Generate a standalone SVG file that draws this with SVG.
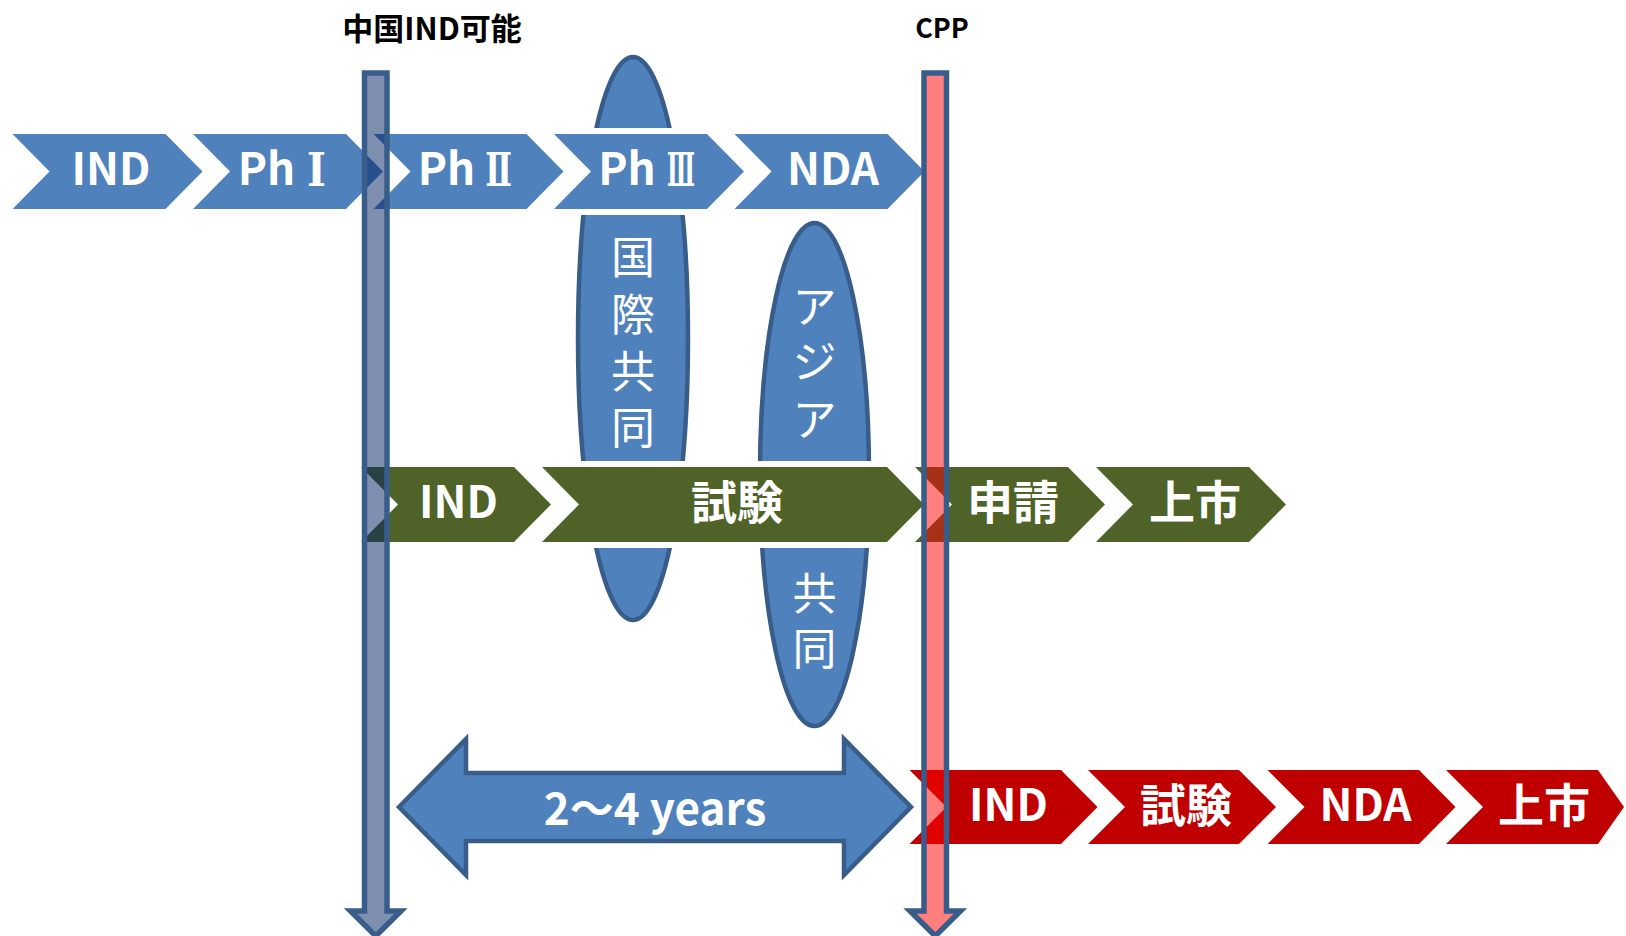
<svg xmlns="http://www.w3.org/2000/svg" width="1626" height="936" viewBox="0 0 1626 936">
<style>
.bg{fill:#fff}
.chev{stroke:#fff;stroke-width:12;paint-order:stroke;stroke-linejoin:miter}
.blue{fill:#4F81BD}
.green{fill:#4F6228}
.red{fill:#C00000}
.ell{fill:#4F81BD;stroke:#385D8A;stroke-width:4.5}
.lbl{fill:#fff;font-family:"Noto Sans CJK JP","Noto Sans",sans-serif;font-weight:bold;font-size:44px;text-anchor:middle}
.num{font-family:"DejaVu Serif","Noto Sans CJK JP",serif;font-size:46px}
.cjk{font-size:46px}
.vt{fill:#fff;font-family:"Noto Sans CJK JP",sans-serif;font-size:44px;text-anchor:middle}
.ttl{fill:#000;font-family:"Noto Sans CJK JP","Noto Sans",sans-serif;font-weight:bold;text-anchor:middle}
.bar{stroke:#385D8A;stroke-width:5.5;stroke-linejoin:miter}
</style>
<rect class="bg" x="0" y="0" width="1626" height="936"/>

<g id="ellipse-intl">
<ellipse class="ell" cx="633" cy="338.5" rx="55" ry="281.5"/>
<text class="vt"><tspan x="633" y="274">国</tspan><tspan x="633" y="331">際</tspan><tspan x="633" y="388">共</tspan><tspan x="633" y="444">同</tspan></text>
</g>
<g id="ellipse-asia">
<ellipse class="ell" cx="814.5" cy="474.5" rx="54.5" ry="251.5"/>
<text class="vt"><tspan x="814.5" y="323">ア</tspan><tspan x="814.5" y="378">ジ</tspan><tspan x="814.5" y="436">ア</tspan><tspan x="814.5" y="610">共</tspan><tspan x="814.5" y="665">同</tspan></text>
</g>

<g id="top-ind"><path class="chev blue" d="M12.5,134 H165.5 L202.5,171.5 L165.5,209 H12.5 L49.5,171.5 Z"/><text class="lbl" x="111" y="185">IND</text></g>
<g id="top-ph1"><path class="chev blue" d="M193,134 H346 L383,171.5 L346,209 H193 L230,171.5 Z"/><text class="lbl" x="266.5" y="185">Ph</text><text class="lbl num" transform="translate(316.5,186) scale(0.88,1)">Ⅰ</text></g>
<g id="top-ph2"><path class="chev blue" d="M373.5,134 H526.5 L563.5,171.5 L526.5,209 H373.5 L410.5,171.5 Z"/><text class="lbl" x="446.5" y="185">Ph</text><text class="lbl num" transform="translate(498.5,186) scale(0.69,1)">Ⅱ</text></g>
<g id="top-ph3"><path class="chev blue" d="M554,134 H707 L744,171.5 L707,209 H554 L591,171.5 Z"/><text class="lbl" x="627" y="185">Ph</text><text class="lbl num" transform="translate(681,186) scale(0.5,1)">Ⅲ</text></g>
<g id="top-nda"><path class="chev blue" d="M734.5,134 H887.5 L924.5,171.5 L887.5,209 H734.5 L771.5,171.5 Z"/><text class="lbl" x="833" y="185">NDA</text></g>

<g id="mid-ind"><path class="chev green" d="M361,467 H514 L551,504.5 L514,542 H361 L398,504.5 Z"/><text class="lbl" x="458.5" y="518">IND</text></g>
<g id="mid-trial"><path class="chev green" d="M542,467 H887 L924,504.5 L887,542 H542 L579,504.5 Z"/><text class="lbl cjk" x="737" y="519">試験</text></g>
<g id="mid-apply"><path class="chev green" d="M915,467 H1068 L1105,504.5 L1068,542 H915 L952,504.5 Z"/><text class="lbl cjk" x="1013" y="519">申請</text></g>
<g id="mid-launch"><path class="chev green" d="M1096,467 H1249 L1286,504.5 L1249,542 H1096 L1133,504.5 Z"/><text class="lbl cjk" x="1195" y="519">上市</text></g>

<g id="bot-ind"><path class="chev red" d="M909.5,770 H1061 L1097.5,807 L1061,844 H909.5 L946.5,807 Z"/><text class="lbl" x="1008.5" y="821">IND</text></g>
<g id="bot-trial"><path class="chev red" d="M1088,770 H1239 L1276,807 L1239,844 H1088 L1125,807 Z"/><text class="lbl cjk" x="1186" y="822">試験</text></g>
<g id="bot-nda"><path class="chev red" d="M1267.5,770 H1419 L1455.5,807 L1419,844 H1267.5 L1304.5,807 Z"/><text class="lbl" x="1365.5" y="821">NDA</text></g>
<g id="bot-launch"><path class="chev red" d="M1446,770 H1598 L1624,807 L1598,844 H1446 L1483,807 Z"/><text class="lbl cjk" x="1544" y="822">上市</text></g>

<g id="connectors">
<g id="span-arrow">
<path fill="#4F81BD" stroke="#385D8A" stroke-width="4.5" stroke-linejoin="miter" d="M399,807 L466,739 L466,773 L844,773 L844,739 L911,807 L844,875 L844,841 L466,841 L466,875 Z"/>
<text class="lbl" x="655" y="825" style="font-size:44px">2～4 years</text>
</g>
<g id="china-ind-line">
<path class="bar" fill="rgba(0,32,96,0.5)" d="M364.5,73 L387,73 L387,911 L401,911 L375.75,936 L350.5,911 L364.5,911 Z"/>
</g>
<g id="cpp-line">
<path class="bar" fill="rgba(255,0,0,0.5)" d="M924,73 L946.5,73 L946.5,911 L960.5,911 L935.25,936 L910,911 L924,911 Z"/>
</g>
</g>

<g id="label-china"><text class="ttl" x="432" y="40" style="font-size:31px">中国IND可能</text></g>
<g id="label-cpp"><text class="ttl" x="942" y="38" style="font-size:27px">CPP</text></g>
</svg>
